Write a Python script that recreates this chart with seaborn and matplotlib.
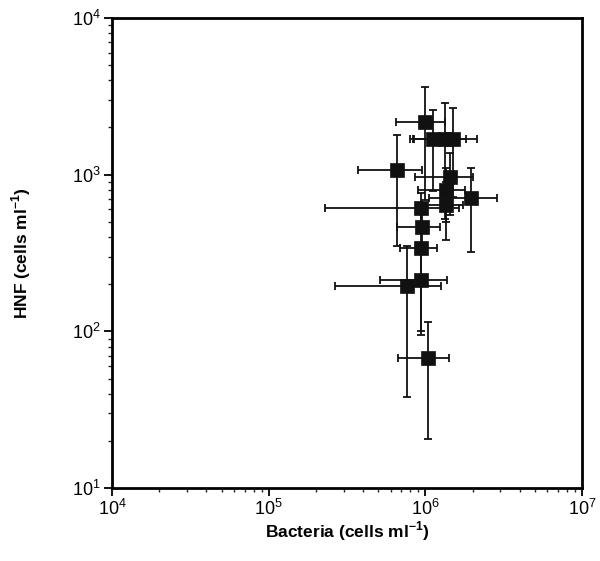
import numpy as np
import pandas as pd
import matplotlib
matplotlib.use('Agg')
import matplotlib.pyplot as plt
import seaborn as sns

# Datos (media y desviacion, en celulas por ml)
bacteria = [0.99e6, 1.12e6, 1.33e6, 1.50e6, 0.66e6, 1.44e6, 1.35e6, 1.35e6,
            1.95e6, 0.94e6, 0.95e6, 0.94e6, 0.76e6, 0.94e6, 1.04e6]
bacteria_sd = [0.34e6, 0.32e6, 0.50e6, 0.65e6, 0.29e6, 0.58e6, 0.45e6, 0.40e6,
               0.90e6, 0.71e6, 0.29e6, 0.25e6, 0.495e6, 0.43e6, 0.37e6]
hnf = [2170, 1690, 1690, 1690, 1072, 966, 798, 641,
       709, 612, 463, 341, 195, 213, 67.6]
hnf_sd = [1480, 900, 1170, 970, 720, 410, 300, 260,
          390, 150, 120, 240, 157, 118, 47]

df = pd.DataFrame({'Bacteria': bacteria, 'HNF': hnf})

sns.set_style('ticks')
plt.rcParams['font.family'] = ['Liberation Sans', 'DejaVu Sans']
plt.rcParams['mathtext.fontset'] = 'custom'
plt.rcParams['mathtext.rm'] = 'Liberation Sans'
plt.rcParams['mathtext.bf'] = 'Liberation Sans:bold'

fig = plt.figure(figsize=(6, 5.61), dpi=100)
ax = fig.add_axes([0.187, 0.130, 0.783, 0.838])

ax.errorbar(bacteria, hnf, xerr=bacteria_sd, yerr=hnf_sd, fmt='none',
            ecolor='#111111', elinewidth=1.3, capsize=3, capthick=1.3, zorder=2)
sns.scatterplot(data=df, x='Bacteria', y='HNF', marker='s', s=90,
                color='#111111', edgecolor='#111111', linewidth=0.5, ax=ax, zorder=3)

ax.set_xscale('log')
ax.set_yscale('log')
ax.set_xlim(1e4, 1e7)
ax.set_ylim(1e1, 1e4)

for s in ax.spines.values():
    s.set_linewidth(2)
    s.set_color('black')
ax.tick_params(which='major', direction='out', length=6, width=1.3,
               labelsize=13, colors='black', pad=2)
ax.tick_params(which='minor', direction='out', length=3, width=1)

ax.set_xlabel(r'Bacteria (cells ml$^{\mathbf{-1}}$)', fontsize=12.5,
              fontweight='bold', labelpad=0, color='black')
ax.set_ylabel(r'HNF (cells ml$^{\mathbf{-1}}$)', fontsize=12.5,
              fontweight='bold', labelpad=28, color='black')

plt.savefig('out.png', dpi=100)
